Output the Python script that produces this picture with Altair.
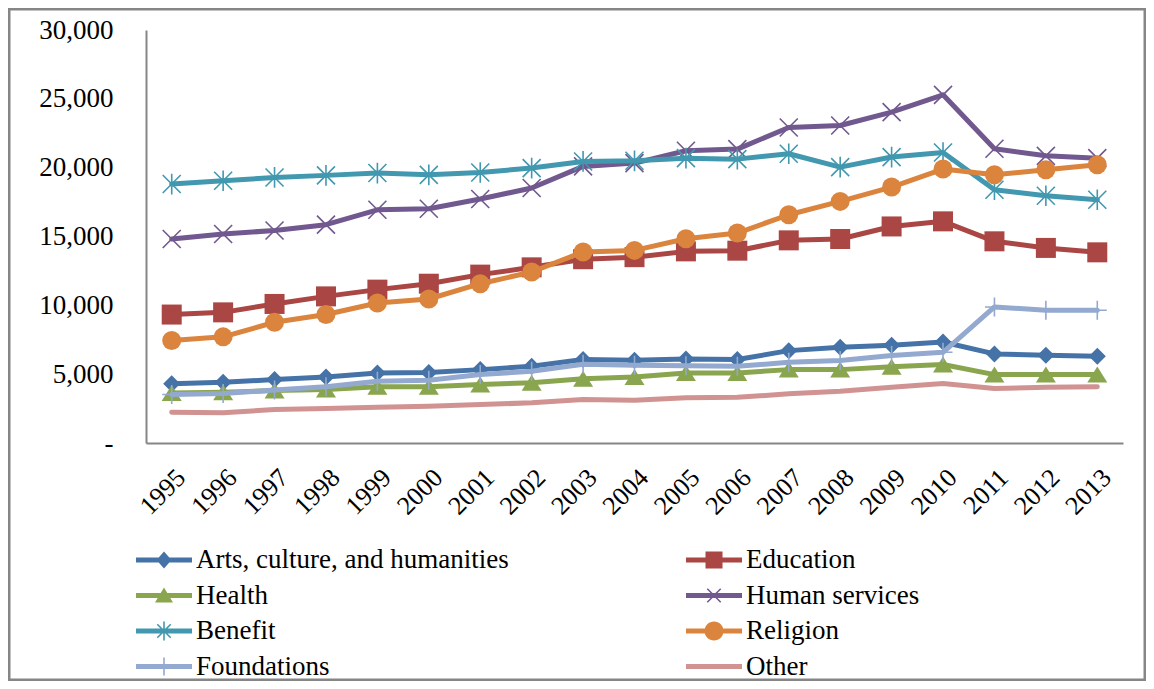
import math
import altair as alt
import pandas as pd

# ---------------- data ----------------
years = ["1995", "1996", "1997", "1998", "1999", "2000", "2001", "2002", "2003", "2004",
         "2005", "2006", "2007", "2008", "2009", "2010", "2011", "2012", "2013"]

series_names = ["Arts, culture, and humanities", "Education", "Health", "Human services",
                "Benefit", "Religion", "Foundations", "Other"]

arts = [4300, 4410, 4610, 4800, 5090, 5120, 5330, 5570, 6060, 6010,
        6110, 6060, 6710, 6950, 7100, 7340, 6470, 6370, 6300]
education = [9330, 9490, 10100, 10650, 11140, 11570, 12230, 12760, 13350, 13500,
             13920, 13970, 14720, 14820, 15730, 16100, 14650, 14170, 13850]
health = [3640, 3690, 3810, 3880, 4080, 4080, 4250, 4370, 4660, 4800,
          5090, 5090, 5330, 5330, 5530, 5700, 4970, 4970, 4970]
human_services = [14820, 15180, 15440, 15860, 16940, 17020, 17720, 18520, 20090, 20330,
                  21230, 21350, 22920, 23060, 24030, 25290, 21370, 20860, 20690]
benefit = [18810, 19050, 19290, 19440, 19610, 19480, 19650, 19970, 20450, 20500,
           20690, 20620, 21010, 20040, 20770, 21100, 18400, 17960, 17670]
religion = [7440, 7710, 8770, 9330, 10170, 10460, 11570, 12420, 13880, 13990,
            14840, 15250, 16580, 17550, 18590, 19900, 19480, 19850, 20210]
foundations = [3520, 3590, 3850, 4080, 4490, 4560, 4970, 5210, 5720, 5650,
               5620, 5570, 5860, 5990, 6350, 6590, 9880, 9640, 9640]
other = [2240, 2190, 2430, 2500, 2600, 2670, 2790, 2920, 3160, 3100,
         3280, 3320, 3570, 3760, 4050, 4320, 3960, 4050, 4080]

y_ticks = [0, 5000, 10000, 15000, 20000, 25000, 30000]

colors = ["#4572A7", "#AA4643", "#89A54E", "#71588F", "#4198AF", "#DB843D", "#93A9CF", "#D19392"]

all_values = [arts, education, health, human_services, benefit, religion, foundations, other]
rows = []
for name, vals in zip(series_names, all_values):
    for yr, v in zip(years, vals):
        rows.append({"series": name, "year": yr, "value": v})
df = pd.DataFrame(rows)

# ---------------- styling ----------------
FONT = "Liberation Serif"
AXIS_GRAY = "#868686"
W, H = 977, 413

x_enc = alt.X("year:O", title=None,
              scale=alt.Scale(type="point", padding=0.5, domain=years),
              axis=alt.Axis(labelAngle=315, labelFont=FONT, labelFontSize=26, labelColor="black",
                            ticks=False, domainColor=AXIS_GRAY, domainWidth=2, labelPadding=21))
y_enc = alt.Y("value:Q", title=None,
              scale=alt.Scale(domain=[0, 30000], nice=False, zero=True),
              axis=alt.Axis(values=y_ticks, labelFont=FONT, labelFontSize=27, labelColor="black",
                            labelExpr="datum.value == 0 ? '-' : format(datum.value, ',')",
                            ticks=False, domainColor=AXIS_GRAY, domainWidth=2, labelPadding=33,
                            grid=False))

# marker style per series: (shape, size, filled)
marker_styles = [
    ("diamond", 289, True),
    ("square", 400, True),
    ("M-1,0.8H1L0,-0.8Z", 400, True),
    ("M-1,-1L1,1M-1,1L1,-1", 324, False),
    ("M-1,-1L1,1M-1,1L1,-1M0,-1.15L0,1.15", 324, False),
    ("circle", 361, True),
    ("M-1,0L1,0M0,-1L0,1", 361, False),
    None,
]

layers = []
# frame around the whole chart
frame = alt.Chart(pd.DataFrame({"a": [0]})).mark_rect(
    fill="white", fillOpacity=0, stroke=AXIS_GRAY, strokeWidth=2.5
).encode(x=alt.value(-136.75), x2=alt.value(998.75), y=alt.value(-20.75), y2=alt.value(649.75))
layers.append(frame)

for name, col, ms in zip(series_names, colors, marker_styles):
    base = alt.Chart(df).transform_filter(alt.datum.series == name)
    layers.append(base.mark_line(strokeWidth=5, strokeCap="round", strokeJoin="round", color=col)
                  .encode(x=x_enc, y=y_enc))
    if ms is not None:
        shape, size, filled = ms
        if filled:
            mk = base.mark_point(shape=shape, size=size, filled=True, opacity=1, color=col)
        else:
            mk = base.mark_point(shape=shape, size=size, filled=False, opacity=1, color=col,
                                 strokeWidth=1.6)
        layers.append(mk.encode(x=x_enc, y=y_enc))


# ---------- legend symbols: line + marker as filled paths ----------
U = 17.0  # px per path unit (symbol box 34px)


def orient(poly):
    a = 0
    for i in range(len(poly)):
        x1, y1 = poly[i]
        x2, y2 = poly[(i + 1) % len(poly)]
        a += x1 * y2 - x2 * y1
    return poly if a > 0 else poly[::-1]


def bar(hl, hw, ang):
    t = math.radians(ang)
    c, s = math.cos(t), math.sin(t)
    pts = [(-hl, -hw), (hl, -hw), (hl, hw), (-hl, hw)]
    return orient([(px * c - py * s, px * s + py * c) for px, py in pts])


def to_path(polys):
    out = []
    for p in polys:
        seg = "M" + " L".join(f"{x / U:.3f},{y / U:.3f}" for x, y in p) + " Z"
        out.append(seg)
    return " ".join(out)


line_poly = bar(28, 2.5, 0)
circle_poly = orient([(9.5 * math.cos(2 * math.pi * k / 32), 9.5 * math.sin(2 * math.pi * k / 32))
                      for k in range(32)])
legend_marks = [
    [orient([(0, -8.5), (7.5, 0), (0, 8.5), (-7.5, 0)])],
    [orient([(-8.5, -8.5), (8.5, -8.5), (8.5, 8.5), (-8.5, 8.5)])],
    [orient([(-9, 7), (9, 7), (0, -8)])],
    [bar(9.5, 0.8, 45), bar(9.5, 0.8, -45)],
    [bar(9.5, 0.8, 45), bar(9.5, 0.8, -45), bar(9.5, 0.8, 90)],
    [circle_poly],
    [bar(9, 0.8, 90)],
    [],
]
legend_paths = [to_path([line_poly] + m) for m in legend_marks]

legend_def = alt.Legend(
    title=None, orient="none", legendX=1, legendY=513, columns=2, columnPadding=177,
    direction="horizontal",
    rowPadding=5.5, symbolSize=1156, symbolStrokeWidth=0, symbolOpacity=1,
    labelFont=FONT, labelFontSize=27, labelColor="black", labelOffset=15, labelLimit=700,
    padding=0,
)
legend_layer = alt.Chart(df).transform_filter("false").mark_point(filled=True, opacity=1).encode(
    x=x_enc, y=y_enc,
    color=alt.Color("series:N", scale=alt.Scale(domain=series_names, range=colors), legend=legend_def),
    shape=alt.Shape("series:N", scale=alt.Scale(domain=series_names, range=legend_paths),
                    legend=legend_def),
)
layers.append(legend_layer)

chart = alt.layer(*layers).properties(
    width=W, height=H,
    autosize=alt.AutoSizeParams(type="none"),
    padding={"left": 138, "top": 22, "right": 23, "bottom": 238},
    background="white",
).configure_view(stroke=None).configure_axis(grid=False)

chart.save("out.html", embed_options={"renderer": "svg", "actions": False})
